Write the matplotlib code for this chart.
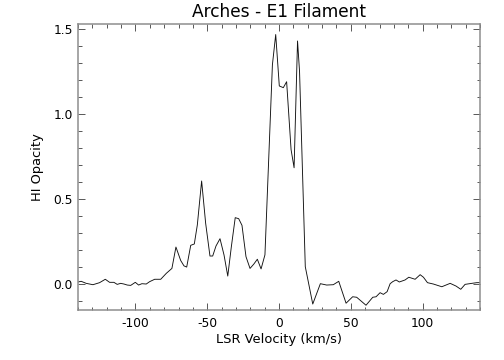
import numpy as np
import matplotlib
matplotlib.use("Agg")
import matplotlib.pyplot as plt
from matplotlib.ticker import MultipleLocator, FormatStrFormatter

# LSR velocity (km/s) and HI opacity
velocity = [-140, -137.8, -134.3, -129.6, -125, -121, -118, -115, -112.7, -110.3,
            -108, -105.7, -103.3, -100.1, -97.8, -95.5, -92.5, -90.1, -86.6, -82.4,
            -78.5, -74.6, -71.8, -68.5, -66.2, -64.3, -61.5, -59, -56.9, -53.9,
            -51.1, -48.1, -46.2, -43.9, -41.1, -38.3, -35.7, -33.2, -30.5, -28.1,
            -25.8, -23, -20.2, -17.6, -15.1, -12.5, -9.8, -4.6, -2.3, 0.2,
            3, 5.3, 8.4, 10.5, 12.9, 14.3, 18.3, 23.5, 28.8, 33.2,
            37.8, 41.6, 46.7, 51.3, 54.1, 60.6, 65.3, 67.6, 70.4, 72.7,
            75.3, 77.4, 79.2, 81.5, 83.8, 87.8, 90.4, 94.8, 98.3, 100.6,
            103.4, 107.5, 113.4, 119.2, 123.3, 126.6, 129.6, 134.3, 137.8, 140]
opacity = [0.01, 0.014, 0.002, -0.006, 0.006, 0.026, 0.008, 0.008, -0.004, 0.002,
           -0.002, -0.008, -0.01, 0.008, -0.008, 0.0, -0.002, 0.012, 0.026, 0.026,
           0.061, 0.09, 0.216, 0.137, 0.105, 0.098, 0.226, 0.234, 0.346, 0.605,
           0.356, 0.163, 0.163, 0.222, 0.265, 0.169, 0.045, 0.218, 0.389, 0.383,
           0.344, 0.159, 0.09, 0.115, 0.144, 0.087, 0.17, 1.29, 1.468, 1.165,
           1.155, 1.19, 0.79, 0.683, 1.43, 1.25, 0.1, -0.12, 0.0, -0.008,
           -0.006, 0.014, -0.115, -0.077, -0.08, -0.127, -0.08, -0.077, -0.053, -0.063,
           -0.047, 0.0, 0.012, 0.022, 0.01, 0.022, 0.038, 0.026, 0.053, 0.038,
           0.006, -0.002, -0.018, 0.002, -0.014, -0.033, -0.004, 0.002, 0.006, 0.006]

plt.rcParams['font.family'] = ['DejaVu Sans']
plt.rcParams['axes.unicode_minus'] = False

fig = plt.figure(figsize=(7, 5), dpi=72)
ax = fig.add_axes([0.1548, 0.1389, 0.7976, 0.7944])

ax.plot(velocity, opacity, color='#111111', lw=0.9)

ax.set_xlim(-140, 140)
ax.set_ylim(-0.155, 1.53)
ax.xaxis.set_major_locator(MultipleLocator(50))
ax.xaxis.set_minor_locator(MultipleLocator(10))
ax.yaxis.set_major_locator(MultipleLocator(0.5))
ax.yaxis.set_minor_locator(MultipleLocator(0.1))
ax.yaxis.set_major_formatter(FormatStrFormatter('%.1f'))

ax.tick_params(which='both', direction='in', top=True, right=True,
               labelsize=12.3, width=0.8, color='#333333')
ax.tick_params(which='major', length=7)
ax.tick_params(which='minor', length=3.5)
ax.tick_params(axis='x', pad=7)
ax.tick_params(axis='y', pad=5)
for s in ax.spines.values():
    s.set_color('#8c8c8c')
    s.set_linewidth(1.5)

ax.set_title('Arches - E1 Filament', fontsize=17, pad=7)
ax.set_xlabel('LSR Velocity (km/s)', fontsize=13, labelpad=3)
ax.set_ylabel('HI Opacity', fontsize=13, labelpad=10)

fig.savefig('out.png', dpi=72)
